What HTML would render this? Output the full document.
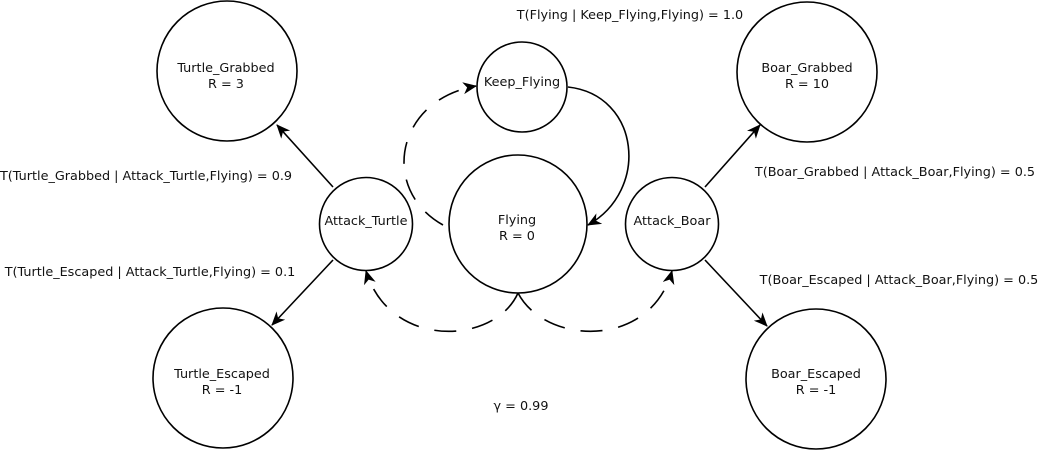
<!DOCTYPE html>
<html><head><style>
html,body{margin:0;padding:0;background:#fff;}
svg{display:block;}
text{font-family:"DejaVu Sans",sans-serif;font-size:12.8px;fill:#111;}
</style></head><body>
<svg width="1040" height="450" viewBox="0 0 1040 450" xmlns="http://www.w3.org/2000/svg">
<defs>
<marker id="a" markerWidth="14" markerHeight="12" refX="13" refY="6" orient="auto" markerUnits="userSpaceOnUse">
<path d="M0,0 L14,6 L0,12 L4,6 Z" fill="#000"/>
</marker>
</defs>
<g fill="none" stroke="#000" stroke-width="1.6">
<circle cx="227" cy="71" r="70"/>
<circle cx="807" cy="72" r="70"/>
<circle cx="223" cy="378" r="70"/>
<circle cx="816" cy="379" r="70"/>
<circle cx="522" cy="87" r="45"/>
<circle cx="518" cy="224" r="69"/>
<circle cx="366" cy="224" r="46.5"/>
<circle cx="672" cy="224" r="46.5"/>
<line x1="333" y1="187" x2="277" y2="125" marker-end="url(#a)"/>
<line x1="333" y1="260" x2="272" y2="325" marker-end="url(#a)"/>
<line x1="705" y1="187" x2="760" y2="125" marker-end="url(#a)"/>
<line x1="705" y1="260" x2="767" y2="326" marker-end="url(#a)"/>
<path d="M568,87 C640,95 650,190 588,225" marker-end="url(#a)"/>
<g stroke-dasharray="22,16">
<path d="M443,225 C380,190 395,100 476,86" marker-end="url(#a)"/>
<path d="M518,293 C495,345 390,350 366,271" marker-end="url(#a)"/>
<path d="M518,293 C545,345 650,350 672,271" marker-end="url(#a)"/>
</g>
</g>
<g text-anchor="middle">
<text x="226" y="72">Turtle_Grabbed</text><text x="226" y="88">R = 3</text>
<text x="807" y="72">Boar_Grabbed</text><text x="807" y="88">R = 10</text>
<text x="222" y="378">Turtle_Escaped</text><text x="222" y="394">R = -1</text>
<text x="816" y="378">Boar_Escaped</text><text x="816" y="394">R = -1</text>
<text x="522" y="86">Keep_Flying</text>
<text x="517" y="224">Flying</text><text x="517" y="240">R = 0</text>
<text x="366" y="225">Attack_Turtle</text>
<text x="672" y="225">Attack_Boar</text>
<text x="630" y="19">T(Flying | Keep_Flying,Flying) = 1.0</text>
<text x="146" y="180">T(Turtle_Grabbed | Attack_Turtle,Flying) = 0.9</text>
<text x="150" y="276">T(Turtle_Escaped | Attack_Turtle,Flying) = 0.1</text>
<text x="895" y="176">T(Boar_Grabbed | Attack_Boar,Flying) = 0.5</text>
<text x="899" y="284">T(Boar_Escaped | Attack_Boar,Flying) = 0.5</text>
<text x="521" y="410">γ = 0.99</text>
</g>
</svg>
</body></html>
